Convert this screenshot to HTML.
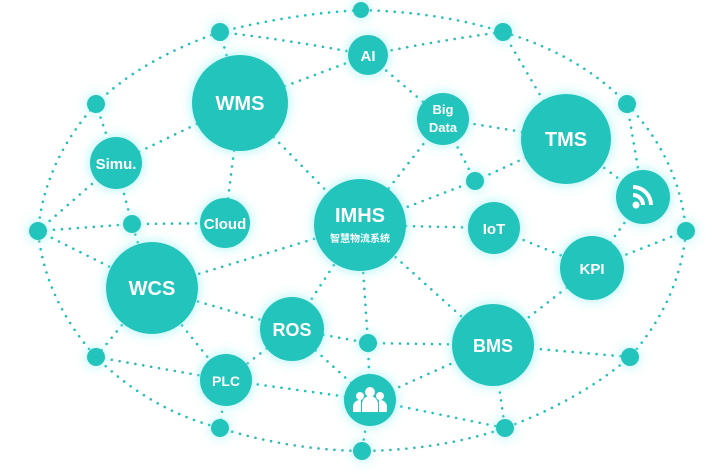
<!DOCTYPE html>
<html><head><meta charset="utf-8"><style>
html,body{margin:0;padding:0;background:#fff;}
svg{display:block;}
text{font-family:"Liberation Sans","Noto Sans CJK SC",sans-serif;fill:#fff;font-weight:bold;text-anchor:middle;}
</style></head><body>
<svg width="720" height="474" viewBox="0 0 720 474" xmlns="http://www.w3.org/2000/svg">
<defs>
<filter id="g" x="-50%" y="-50%" width="200%" height="200%">
<feGaussianBlur in="SourceAlpha" stdDeviation="6" result="b"/>
<feFlood flood-color="#8ef0f0" flood-opacity="0.8"/>
<feComposite in2="b" operator="in" result="s"/>
<feMerge><feMergeNode in="s"/><feMergeNode in="SourceGraphic"/></feMerge>
</filter>
</defs>
<g stroke="#22bfb6" stroke-width="2.6" stroke-linecap="round" stroke-dasharray="0 8" fill="none">
<path d="M361,10 Q290,14 220,32 Q140,60 96,104 Q45,160 38,231 Q45,300 96,357 Q150,410 220,428 Q290,450 362,451 Q440,450 505,428 Q580,400 630,357 Q680,300 686,231 Q680,160 627,104 Q580,55 503,32 Q440,12 361,10"/>
<path d="M220,32 Q290,40 368,55 M368,55 Q440,40 503,32 M240,103 L368,55 M220,32 L240,103 M503,32 L566,139"/>
<path d="M368,55 L443,119 M443,119 L566,139 M443,119 L360,225 M443,119 L475,181 M475,181 L566,139 M475,181 L360,225 M566,139 L643,197 M627,104 L643,197 M643,197 L592,268 M686,231 L592,268 M494,228 L360,225 M494,228 L592,268 M592,268 L493,345 M360,225 L493,345 M360,225 L292,329 M360,225 L368,343 M360,225 L152,288 M240,103 L225,223 M240,103 L360,225 M240,103 L116,163 M116,163 L96,104 M116,163 L38,231 M116,163 L132,224 M132,224 L225,223 M38,231 L132,224 M152,288 L132,224 M152,288 L38,231 M152,288 L292,329 M152,288 L226,380 M152,288 L96,357 M292,329 L368,343 M368,343 L493,345 M368,343 L370,400 M292,329 L226,380 M292,329 L370,400 M226,380 L370,400 M96,357 L226,380 M226,380 L220,428 M370,400 L493,345 M370,400 L505,428 M370,400 L362,451 M493,345 L630,357 M493,345 L505,428"/>
</g>
<g fill="#22c4bb" filter="url(#g)">
<circle cx="361" cy="10" r="8"/><circle cx="220" cy="32" r="9"/><circle cx="96" cy="104" r="9"/>
<circle cx="38" cy="231" r="9"/><circle cx="132" cy="224" r="9"/><circle cx="503" cy="32" r="9"/>
<circle cx="627" cy="104" r="9"/><circle cx="475" cy="181" r="9"/><circle cx="686" cy="231" r="9"/>
<circle cx="368" cy="343" r="9"/><circle cx="96" cy="357" r="9"/><circle cx="630" cy="357" r="9"/>
<circle cx="220" cy="428" r="9"/><circle cx="505" cy="428" r="9"/><circle cx="362" cy="451" r="9"/>
<circle cx="368" cy="55" r="20"/><circle cx="240" cy="103" r="48"/><circle cx="116" cy="163" r="26"/>
<circle cx="225" cy="223" r="25"/><circle cx="360" cy="225" r="46"/><circle cx="443" cy="119" r="26"/>
<circle cx="566" cy="139" r="45"/><circle cx="494" cy="228" r="26"/><circle cx="643" cy="197" r="27"/>
<circle cx="592" cy="268" r="32"/><circle cx="152" cy="288" r="46"/><circle cx="292" cy="329" r="32"/>
<circle cx="493" cy="345" r="41"/><circle cx="226" cy="380" r="26"/><circle cx="370" cy="400" r="26"/>
</g>
<text x="368" y="61" font-size="15">AI</text>
<text x="240" y="110" font-size="20">WMS</text>
<text x="116" y="169" font-size="15">Simu.</text>
<text x="225" y="229" font-size="15">Cloud</text>
<text x="360" y="222" font-size="20">IMHS</text>
<text x="360" y="242" font-size="10" font-weight="normal">智慧物流系统</text>
<text x="443" y="114" font-size="13">Big</text>
<text x="443" y="132" font-size="13">Data</text>
<text x="566" y="146" font-size="20">TMS</text>
<text x="494" y="234" font-size="15">IoT</text>
<text x="592" y="274" font-size="15">KPI</text>
<text x="152" y="295" font-size="20">WCS</text>
<text x="292" y="336" font-size="18">ROS</text>
<text x="493" y="352" font-size="18">BMS</text>
<text x="226" y="386" font-size="14">PLC</text>
<g fill="#fff">
<circle cx="636" cy="205" r="3.5"/>
<path d="M633,193 a12,12 0 0 1 12,12 h-4 a8,8 0 0 0 -8,-8z"/>
<path d="M633,185 a20,20 0 0 1 20,20 h-4 a16,16 0 0 0 -16,-16z"/>
<circle cx="370" cy="392" r="5"/><path d="M362,412 v-8 a8,8 0 0 1 16,0 v8z"/>
<circle cx="360" cy="396" r="4"/><path d="M353,412 v-6 a7,7 0 0 1 8,-6 v12z"/>
<circle cx="380" cy="396" r="4"/><path d="M387,412 v-6 a7,7 0 0 0 -8,-6 v12z"/>
</g>
</svg>
</body></html>
